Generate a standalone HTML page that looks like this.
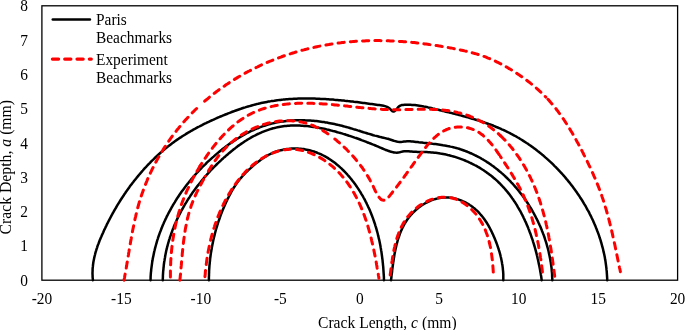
<!DOCTYPE html>
<html><head><meta charset="utf-8"><style>
html,body{margin:0;padding:0;background:#fff;}
svg{display:block;will-change:transform;}
text{font-family:"Liberation Serif",serif;font-size:15.4px;fill:#000;}
.k{fill:none;stroke:#000;stroke-width:2.5;stroke-linejoin:round;stroke-linecap:round;}
.r{fill:none;stroke:#ff0000;stroke-width:3;stroke-dasharray:6.2 6.1;stroke-linecap:round;stroke-linejoin:round;}
</style></head><body>
<svg width="685" height="330" viewBox="0 0 685 330">
<rect x="0" y="0" width="685" height="330" fill="#fff"/>
<rect x="41.9" y="5.8" width="635.7" height="274.4" fill="none" stroke="#000" stroke-width="1.3"/>
<text transform="translate(28.00,285.70) scale(1,1.02)" text-anchor="end">0</text>
<text transform="translate(28.00,251.40) scale(1,1.02)" text-anchor="end">1</text>
<text transform="translate(28.00,217.10) scale(1,1.02)" text-anchor="end">2</text>
<text transform="translate(28.00,182.80) scale(1,1.02)" text-anchor="end">3</text>
<text transform="translate(28.00,148.50) scale(1,1.02)" text-anchor="end">4</text>
<text transform="translate(28.00,114.20) scale(1,1.02)" text-anchor="end">5</text>
<text transform="translate(28.00,79.90) scale(1,1.02)" text-anchor="end">6</text>
<text transform="translate(28.00,45.60) scale(1,1.02)" text-anchor="end">7</text>
<text transform="translate(28.00,11.30) scale(1,1.02)" text-anchor="end">8</text>
<text transform="translate(41.90,303.90) scale(1,1.02)" text-anchor="middle">-20</text>
<text transform="translate(121.36,303.90) scale(1,1.02)" text-anchor="middle">-15</text>
<text transform="translate(200.83,303.90) scale(1,1.02)" text-anchor="middle">-10</text>
<text transform="translate(280.29,303.90) scale(1,1.02)" text-anchor="middle">-5</text>
<text transform="translate(359.75,303.90) scale(1,1.02)" text-anchor="middle">0</text>
<text transform="translate(439.21,303.90) scale(1,1.02)" text-anchor="middle">5</text>
<text transform="translate(518.67,303.90) scale(1,1.02)" text-anchor="middle">10</text>
<text transform="translate(598.14,303.90) scale(1,1.02)" text-anchor="middle">15</text>
<text transform="translate(677.60,303.90) scale(1,1.02)" text-anchor="middle">20</text>
<text transform="translate(387.30,327.80) scale(1,1.02)" text-anchor="middle" style="font-size:15.6px">Crack Length, <tspan font-style="italic">c</tspan> (mm)</text>
<text transform="translate(11.2,167.2) rotate(-90) scale(1,1.02)" text-anchor="middle" style="font-size:15.75px">Crack Depth, <tspan font-style="italic">a</tspan> (mm)</text>
<text transform="translate(96.00,25.20) scale(1,1.02)">Paris</text>
<text transform="translate(96.00,42.90) scale(1,1.02)">Beachmarks</text>
<text transform="translate(96.00,65.00) scale(1,1.02)">Experiment</text>
<text transform="translate(96.00,82.60) scale(1,1.02)">Beachmarks</text>
<line x1="52.8" y1="19.5" x2="89.9" y2="19.5" stroke="#000" stroke-width="2.6" stroke-linecap="round"/>
<line x1="52.4" y1="59.1" x2="91.3" y2="59.1" class="r" style="stroke-width:3.2"/>
<path class="k" d="M92.9,280.2 92.8,278.6 92.6,277.1 92.6,275.5 92.5,274.0 92.5,272.5 92.6,271.0 92.6,269.4 92.7,267.9 92.9,266.4 93.0,265.0 93.2,263.5 93.4,262.0 93.7,260.5 94.0,259.1 94.3,257.6 94.6,256.2 95.0,254.7 95.3,253.3 95.7,251.9 96.2,250.4 96.6,249.0 97.1,247.6 97.5,246.2 98.0,244.8 98.6,243.4 99.1,242.0 99.6,240.6 100.2,239.2 100.8,237.8 101.4,236.5 102.0,235.1 102.6,233.7 103.2,232.4 103.8,231.0 104.4,229.6 105.1,228.3 105.7,226.9 106.4,225.6 107.0,224.2 107.7,222.9 108.4,221.5 109.1,220.2 109.8,218.8 110.5,217.5 111.2,216.2 111.9,214.8 112.6,213.5 113.4,212.2 114.1,210.9 114.8,209.6 115.6,208.3 116.4,207.0 117.1,205.7 117.9,204.4 118.7,203.1 119.5,201.8 120.3,200.5 121.1,199.3 121.9,198.0 122.8,196.7 123.6,195.5 124.4,194.2 125.3,193.0 126.1,191.7 127.0,190.5 127.9,189.3 128.8,188.1 129.6,186.8 130.5,185.6 131.4,184.4 132.3,183.2 133.3,182.0 134.2,180.8 135.1,179.7 136.1,178.5 137.0,177.3 138.0,176.2 138.9,175.0 139.9,173.9 140.9,172.7 141.8,171.6 142.8,170.5 143.8,169.3 144.8,168.2 145.9,167.1 146.9,166.0 147.9,164.9 148.9,163.8 150.0,162.8 151.0,161.7 152.1,160.6 153.2,159.6 154.2,158.6 155.3,157.5 156.4,156.5 157.5,155.5 158.6,154.5 159.7,153.5 160.8,152.5 162.0,151.5 163.1,150.5 164.3,149.6 165.4,148.6 166.6,147.7 167.7,146.7 168.9,145.8 170.1,144.9 171.3,144.0 172.5,143.1 173.7,142.2 174.9,141.3 176.1,140.4 177.3,139.6 178.6,138.7 179.8,137.9 181.1,137.1 182.3,136.3 183.6,135.5 184.9,134.7 186.1,133.9 187.4,133.1 188.7,132.3 190.0,131.6 191.3,130.8 192.6,130.1 193.9,129.3 195.3,128.6 196.6,127.9 197.9,127.2 199.3,126.5 200.6,125.8 202.0,125.1 203.3,124.4 204.7,123.7 206.0,123.1 207.4,122.4 208.7,121.8 210.1,121.1 211.5,120.5 212.9,119.9 214.2,119.3 215.6,118.7 217.0,118.0 218.4,117.4 219.8,116.8 221.2,116.3 222.6,115.7 224.0,115.1 225.4,114.5 226.8,114.0 228.2,113.4 229.6,112.9 231.0,112.3 232.4,111.8 233.8,111.3 235.2,110.7 236.6,110.2 238.1,109.7 239.5,109.2 240.9,108.8 242.3,108.3 243.8,107.8 245.2,107.4 246.6,106.9 248.0,106.5 249.5,106.1 250.9,105.7 252.4,105.3 253.8,104.9 255.3,104.5 256.7,104.1 258.2,103.8 259.6,103.4 261.1,103.1 262.5,102.8 264.0,102.5 265.4,102.2 266.9,101.9 268.4,101.6 269.9,101.4 271.3,101.1 272.8,100.9 274.3,100.7 275.8,100.4 277.2,100.2 278.7,100.1 280.2,99.9 281.7,99.7 283.2,99.6 284.7,99.4 286.2,99.3 287.7,99.2 289.2,99.1 290.7,99.0 292.2,98.9 293.7,98.8 295.2,98.7 296.7,98.7 298.2,98.6 299.7,98.6 301.2,98.5 302.7,98.5 304.2,98.5 305.7,98.5 307.2,98.5 308.7,98.5 310.2,98.5 311.7,98.6 313.2,98.6 314.8,98.6 316.3,98.7 317.8,98.7 319.3,98.8 320.8,98.9 322.3,98.9 323.8,99.0 325.3,99.1 326.9,99.2 328.4,99.3 329.9,99.4 331.4,99.5 332.9,99.6 334.4,99.8 335.9,99.9 337.4,100.0 338.9,100.2 340.5,100.3 342.0,100.4 343.5,100.6 345.0,100.8 346.5,100.9 348.0,101.1 349.5,101.2 351.0,101.4 352.5,101.6 354.0,101.8 355.5,101.9 357.0,102.1 358.5,102.3 360.0,102.5 361.5,102.7 363.0,102.9 364.5,103.1 366.0,103.3 367.4,103.5 368.9,103.7 370.4,103.9 371.9,104.1 373.4,104.3 374.8,104.5 376.3,104.7 377.8,104.9 379.3,105.1 380.7,105.3 382.2,105.5 383.6,105.8 385.0,106.1 386.4,106.6 387.8,107.2 389.0,108.1 390.3,109.1 391.4,110.3 392.5,111.2 393.6,111.5 394.7,111.0 395.8,110.1 396.9,108.8 397.9,107.5 399.0,106.4 400.3,105.6 401.6,105.1 403.1,104.9 404.6,104.8 406.0,104.7 407.5,104.7 409.0,104.7 410.5,104.8 412.0,104.9 413.5,105.0 415.0,105.1 416.4,105.3 417.9,105.5 419.4,105.7 420.9,105.9 422.3,106.2 423.8,106.5 425.3,106.7 426.7,107.0 428.2,107.4 429.7,107.7 431.2,108.0 432.6,108.4 434.1,108.7 435.6,109.1 437.0,109.5 438.5,109.8 440.0,110.2 441.4,110.6 442.9,110.9 444.4,111.3 445.9,111.7 447.3,112.0 448.8,112.4 450.3,112.8 451.8,113.1 453.2,113.5 454.7,113.9 456.2,114.3 457.6,114.6 459.1,115.0 460.6,115.4 462.0,115.8 463.5,116.2 464.9,116.6 466.4,117.0 467.9,117.4 469.3,117.8 470.8,118.2 472.2,118.7 473.7,119.1 475.1,119.5 476.6,120.0 478.0,120.4 479.4,120.9 480.9,121.3 482.3,121.8 483.7,122.3 485.1,122.8 486.5,123.2 488.0,123.7 489.4,124.3 490.8,124.8 492.2,125.3 493.6,125.8 495.0,126.4 496.3,127.0 497.7,127.5 499.1,128.1 500.5,128.7 501.8,129.3 503.2,129.9 504.6,130.5 505.9,131.2 507.2,131.8 508.6,132.5 509.9,133.2 511.2,133.9 512.6,134.6 513.9,135.3 515.2,136.0 516.5,136.7 517.8,137.5 519.1,138.2 520.3,139.0 521.6,139.8 522.9,140.6 524.1,141.4 525.4,142.2 526.6,143.0 527.9,143.8 529.1,144.7 530.3,145.5 531.6,146.4 532.8,147.3 534.0,148.2 535.2,149.1 536.4,150.0 537.5,150.9 538.7,151.8 539.9,152.8 541.1,153.7 542.2,154.7 543.4,155.6 544.5,156.6 545.6,157.6 546.8,158.6 547.9,159.6 549.0,160.6 550.1,161.6 551.2,162.6 552.3,163.7 553.3,164.7 554.4,165.8 555.5,166.8 556.5,167.9 557.6,169.0 558.6,170.1 559.6,171.2 560.7,172.3 561.7,173.4 562.7,174.5 563.7,175.6 564.7,176.8 565.6,177.9 566.6,179.1 567.6,180.2 568.5,181.4 569.5,182.6 570.4,183.8 571.3,184.9 572.2,186.1 573.1,187.3 574.0,188.6 574.9,189.8 575.8,191.0 576.7,192.2 577.5,193.5 578.4,194.7 579.2,195.9 580.0,197.2 580.9,198.5 581.7,199.7 582.5,201.0 583.3,202.3 584.0,203.6 584.8,204.9 585.6,206.2 586.3,207.5 587.0,208.8 587.7,210.1 588.5,211.4 589.2,212.7 589.8,214.1 590.5,215.4 591.2,216.8 591.8,218.1 592.5,219.5 593.1,220.8 593.7,222.2 594.3,223.6 594.9,224.9 595.5,226.3 596.0,227.7 596.6,229.1 597.1,230.5 597.7,231.9 598.2,233.3 598.7,234.7 599.2,236.1 599.6,237.5 600.1,238.9 600.6,240.4 601.0,241.8 601.4,243.2 601.8,244.7 602.2,246.1 602.6,247.6 603.0,249.0 603.3,250.5 603.6,251.9 604.0,253.4 604.3,254.8 604.6,256.3 604.9,257.8 605.1,259.3 605.4,260.7 605.6,262.2 605.8,263.7 606.0,265.2 606.2,266.7 606.4,268.2 606.5,269.7 606.7,271.2 606.8,272.7 606.9,274.2 607.0,275.7 607.1,277.2 607.2,278.7 607.2,280.2"/>
<path class="k" d="M150.5,280.2 150.6,278.7 150.6,277.1 150.7,275.6 150.8,274.1 150.9,272.6 151.1,271.1 151.2,269.6 151.4,268.1 151.6,266.6 151.8,265.1 152.0,263.6 152.2,262.1 152.5,260.6 152.7,259.1 153.0,257.6 153.3,256.2 153.6,254.7 153.9,253.2 154.2,251.8 154.6,250.3 154.9,248.9 155.3,247.4 155.7,246.0 156.1,244.5 156.5,243.1 156.9,241.7 157.3,240.2 157.8,238.8 158.2,237.4 158.7,236.0 159.2,234.6 159.7,233.2 160.2,231.8 160.8,230.4 161.3,229.0 161.9,227.6 162.4,226.2 163.0,224.8 163.6,223.5 164.2,222.1 164.8,220.8 165.4,219.4 166.1,218.1 166.7,216.7 167.4,215.4 168.1,214.0 168.8,212.7 169.5,211.4 170.2,210.1 170.9,208.8 171.6,207.5 172.4,206.2 173.1,204.9 173.9,203.6 174.7,202.3 175.4,201.1 176.2,199.8 177.0,198.5 177.9,197.3 178.7,196.0 179.5,194.8 180.4,193.5 181.2,192.3 182.1,191.1 183.0,189.9 183.9,188.7 184.8,187.5 185.7,186.3 186.6,185.1 187.5,183.9 188.5,182.7 189.4,181.5 190.4,180.4 191.3,179.2 192.3,178.1 193.3,176.9 194.3,175.8 195.3,174.7 196.3,173.5 197.3,172.4 198.3,171.3 199.4,170.2 200.4,169.1 201.5,168.0 202.5,166.9 203.6,165.9 204.7,164.8 205.8,163.8 206.8,162.7 207.9,161.7 209.1,160.6 210.2,159.6 211.3,158.6 212.4,157.6 213.6,156.6 214.7,155.6 215.8,154.6 217.0,153.6 218.2,152.6 219.3,151.7 220.5,150.7 221.7,149.8 222.9,148.8 224.1,147.9 225.3,147.0 226.5,146.1 227.7,145.2 228.9,144.3 230.2,143.4 231.4,142.6 232.7,141.7 233.9,140.9 235.2,140.1 236.4,139.3 237.7,138.5 239.0,137.7 240.3,136.9 241.6,136.1 242.9,135.4 244.2,134.7 245.5,133.9 246.8,133.2 248.1,132.6 249.5,131.9 250.8,131.2 252.1,130.6 253.5,130.0 254.8,129.4 256.2,128.8 257.6,128.2 259.0,127.7 260.3,127.2 261.7,126.6 263.1,126.1 264.5,125.7 265.9,125.2 267.3,124.8 268.8,124.4 270.2,124.0 271.6,123.6 273.1,123.3 274.5,122.9 276.0,122.6 277.4,122.3 278.9,122.1 280.4,121.8 281.8,121.6 283.3,121.4 284.8,121.2 286.3,121.0 287.8,120.8 289.3,120.7 290.7,120.6 292.2,120.5 293.7,120.4 295.3,120.3 296.8,120.3 298.3,120.3 299.8,120.2 301.3,120.3 302.8,120.3 304.3,120.3 305.8,120.4 307.4,120.4 308.9,120.5 310.4,120.6 311.9,120.7 313.4,120.8 314.9,121.0 316.5,121.1 318.0,121.3 319.5,121.5 321.0,121.7 322.5,121.9 324.0,122.1 325.5,122.4 327.0,122.6 328.5,122.9 330.0,123.2 331.5,123.5 333.0,123.8 334.5,124.1 336.0,124.4 337.4,124.7 338.9,125.1 340.4,125.4 341.9,125.8 343.3,126.2 344.8,126.6 346.2,127.0 347.7,127.4 349.1,127.8 350.5,128.2 352.0,128.6 353.4,129.1 354.8,129.5 356.3,129.9 357.7,130.4 359.1,130.8 360.5,131.3 361.9,131.7 363.4,132.2 364.8,132.6 366.2,133.0 367.6,133.5 369.1,133.9 370.5,134.3 371.9,134.7 373.3,135.2 374.8,135.6 376.2,135.9 377.7,136.3 379.1,136.7 380.6,137.1 382.1,137.4 383.5,137.7 385.0,138.1 386.5,138.5 387.9,138.8 389.4,139.3 390.8,139.7 392.3,140.2 393.7,140.7 395.2,141.1 396.6,141.5 398.0,141.8 399.5,141.9 401.0,141.9 402.5,141.8 404.0,141.6 405.5,141.4 407.0,141.3 408.5,141.2 410.0,141.3 411.5,141.4 412.9,141.5 414.4,141.7 415.9,141.9 417.4,142.1 418.9,142.3 420.4,142.4 421.9,142.6 423.4,142.8 424.9,142.9 426.5,143.1 428.0,143.3 429.5,143.4 431.0,143.6 432.5,143.8 434.0,143.9 435.5,144.1 437.0,144.3 438.5,144.5 440.0,144.7 441.5,144.9 443.0,145.2 444.5,145.4 445.9,145.7 447.4,146.0 448.9,146.2 450.4,146.6 451.8,146.9 453.3,147.2 454.7,147.6 456.2,148.0 457.6,148.4 459.0,148.8 460.4,149.3 461.8,149.7 463.2,150.2 464.6,150.7 466.0,151.3 467.4,151.8 468.8,152.4 470.1,153.0 471.5,153.5 472.8,154.2 474.2,154.8 475.5,155.5 476.8,156.1 478.2,156.8 479.5,157.5 480.8,158.2 482.0,159.0 483.3,159.7 484.6,160.5 485.9,161.3 487.1,162.1 488.4,162.9 489.6,163.7 490.8,164.6 492.0,165.5 493.3,166.3 494.4,167.2 495.6,168.1 496.8,169.1 498.0,170.0 499.1,171.0 500.3,171.9 501.4,172.9 502.6,173.9 503.7,174.9 504.8,175.9 505.9,177.0 507.0,178.0 508.1,179.1 509.1,180.1 510.2,181.2 511.2,182.3 512.3,183.4 513.3,184.5 514.3,185.7 515.3,186.8 516.3,187.9 517.3,189.1 518.2,190.3 519.2,191.5 520.1,192.7 521.1,193.9 522.0,195.1 522.9,196.3 523.8,197.5 524.7,198.8 525.5,200.0 526.4,201.3 527.2,202.5 528.1,203.8 528.9,205.1 529.7,206.4 530.5,207.7 531.3,209.0 532.1,210.3 532.8,211.6 533.6,213.0 534.3,214.3 535.0,215.7 535.7,217.0 536.4,218.4 537.1,219.7 537.8,221.1 538.4,222.5 539.1,223.9 539.7,225.3 540.3,226.6 540.9,228.0 541.5,229.4 542.0,230.9 542.6,232.3 543.1,233.7 543.7,235.1 544.2,236.5 544.7,238.0 545.1,239.4 545.6,240.8 546.1,242.3 546.5,243.7 546.9,245.2 547.3,246.6 547.7,248.0 548.1,249.5 548.5,251.0 548.8,252.4 549.1,253.9 549.4,255.3 549.7,256.8 550.0,258.3 550.3,259.7 550.5,261.2 550.8,262.6 551.0,264.1 551.2,265.6 551.4,267.0 551.6,268.5 551.7,270.0 551.8,271.4 552.0,272.9 552.1,274.4 552.1,275.8 552.2,277.3 552.3,278.7 552.3,280.2"/>
<path class="k" d="M162.8,280.2 162.8,278.7 162.9,277.1 162.9,275.6 163.0,274.1 163.1,272.5 163.2,271.0 163.4,269.5 163.5,268.0 163.7,266.5 163.8,265.0 164.0,263.5 164.2,262.0 164.5,260.5 164.7,259.0 165.0,257.5 165.2,256.0 165.5,254.5 165.8,253.1 166.1,251.6 166.4,250.1 166.8,248.7 167.1,247.2 167.5,245.8 167.9,244.3 168.3,242.9 168.7,241.5 169.1,240.0 169.6,238.6 170.0,237.2 170.5,235.8 171.0,234.4 171.5,233.0 172.0,231.6 172.5,230.2 173.0,228.8 173.6,227.4 174.1,226.0 174.7,224.6 175.3,223.3 175.9,221.9 176.5,220.6 177.1,219.2 177.8,217.9 178.4,216.5 179.1,215.2 179.8,213.9 180.5,212.5 181.1,211.2 181.9,209.9 182.6,208.6 183.3,207.3 184.1,206.0 184.8,204.7 185.6,203.4 186.4,202.1 187.1,200.9 187.9,199.6 188.8,198.3 189.6,197.1 190.4,195.8 191.3,194.6 192.1,193.3 193.0,192.1 193.8,190.9 194.7,189.7 195.6,188.5 196.5,187.3 197.4,186.1 198.4,184.9 199.3,183.7 200.3,182.5 201.2,181.3 202.2,180.1 203.1,179.0 204.1,177.8 205.1,176.7 206.1,175.5 207.1,174.4 208.1,173.3 209.2,172.2 210.2,171.0 211.2,169.9 212.3,168.8 213.4,167.7 214.4,166.7 215.5,165.6 216.6,164.5 217.7,163.4 218.8,162.4 219.9,161.3 221.0,160.3 222.1,159.2 223.3,158.2 224.4,157.2 225.6,156.2 226.7,155.2 227.9,154.2 229.0,153.2 230.2,152.2 231.4,151.2 232.6,150.3 233.8,149.3 235.0,148.4 236.2,147.4 237.4,146.5 238.6,145.6 239.9,144.7 241.1,143.9 242.4,143.0 243.6,142.2 244.9,141.3 246.2,140.5 247.4,139.7 248.7,139.0 250.0,138.2 251.3,137.4 252.6,136.7 253.9,136.0 255.3,135.3 256.6,134.6 257.9,134.0 259.3,133.4 260.6,132.8 262.0,132.2 263.4,131.6 264.7,131.1 266.1,130.6 267.5,130.1 268.9,129.6 270.3,129.1 271.7,128.7 273.1,128.3 274.5,128.0 276.0,127.6 277.4,127.3 278.9,127.0 280.3,126.7 281.8,126.5 283.2,126.3 284.7,126.1 286.2,126.0 287.7,125.8 289.2,125.7 290.7,125.6 292.2,125.6 293.7,125.5 295.2,125.5 296.7,125.5 298.2,125.6 299.7,125.6 301.2,125.7 302.7,125.8 304.2,125.9 305.8,126.0 307.3,126.1 308.8,126.3 310.3,126.5 311.9,126.7 313.4,126.9 314.9,127.1 316.4,127.4 318.0,127.6 319.5,127.9 321.0,128.2 322.5,128.5 324.0,128.8 325.5,129.1 327.0,129.5 328.5,129.8 330.0,130.2 331.5,130.6 333.0,131.0 334.5,131.3 336.0,131.7 337.4,132.2 338.9,132.6 340.4,133.0 341.8,133.4 343.3,133.9 344.7,134.3 346.1,134.8 347.6,135.2 349.0,135.7 350.4,136.1 351.8,136.6 353.2,137.1 354.6,137.6 356.0,138.0 357.4,138.5 358.8,139.0 360.1,139.5 361.5,140.1 362.9,140.6 364.3,141.1 365.7,141.6 367.0,142.2 368.4,142.7 369.8,143.3 371.2,143.8 372.6,144.4 374.0,144.9 375.4,145.5 376.8,146.1 378.2,146.7 379.6,147.3 381.0,147.9 382.4,148.5 383.8,149.1 385.2,149.7 386.7,150.2 388.1,150.8 389.5,151.3 391.0,151.7 392.4,152.1 393.9,152.4 395.3,152.6 396.8,152.7 398.3,152.6 399.7,152.3 401.2,151.9 402.7,151.5 404.2,151.3 405.7,151.3 407.2,151.3 408.7,151.3 410.2,151.5 411.7,151.6 413.2,151.7 414.7,151.8 416.2,151.8 417.7,151.9 419.2,151.9 420.7,151.9 422.2,152.0 423.7,152.0 425.2,152.1 426.8,152.1 428.3,152.2 429.8,152.3 431.3,152.4 432.8,152.5 434.3,152.7 435.8,152.8 437.3,153.0 438.8,153.2 440.3,153.5 441.7,153.7 443.2,154.0 444.7,154.3 446.2,154.6 447.7,155.0 449.1,155.3 450.6,155.7 452.1,156.1 453.5,156.5 455.0,156.9 456.4,157.4 457.9,157.9 459.3,158.4 460.7,158.9 462.1,159.4 463.5,159.9 465.0,160.5 466.3,161.1 467.7,161.7 469.1,162.3 470.5,163.0 471.8,163.6 473.2,164.3 474.5,165.0 475.9,165.7 477.2,166.4 478.5,167.2 479.8,167.9 481.1,168.7 482.3,169.5 483.6,170.3 484.9,171.2 486.1,172.0 487.3,172.9 488.5,173.8 489.7,174.7 490.9,175.6 492.1,176.5 493.2,177.5 494.4,178.5 495.5,179.4 496.6,180.4 497.7,181.4 498.8,182.5 499.9,183.5 500.9,184.6 501.9,185.7 503.0,186.8 504.0,187.9 505.0,189.0 505.9,190.1 506.9,191.3 507.8,192.4 508.8,193.6 509.7,194.8 510.6,196.0 511.5,197.2 512.3,198.4 513.2,199.6 514.0,200.9 514.9,202.1 515.7,203.4 516.5,204.7 517.3,206.0 518.0,207.3 518.8,208.6 519.5,209.9 520.3,211.2 521.0,212.5 521.7,213.9 522.4,215.2 523.1,216.6 523.7,218.0 524.4,219.3 525.0,220.7 525.7,222.1 526.3,223.5 526.9,224.9 527.5,226.3 528.1,227.7 528.6,229.1 529.2,230.6 529.7,232.0 530.3,233.4 530.8,234.9 531.3,236.3 531.8,237.8 532.3,239.2 532.8,240.7 533.2,242.1 533.7,243.6 534.1,245.0 534.6,246.5 535.0,248.0 535.4,249.4 535.8,250.9 536.2,252.4 536.6,253.9 536.9,255.3 537.3,256.8 537.6,258.3 538.0,259.7 538.3,261.2 538.6,262.7 538.9,264.2 539.2,265.6 539.5,267.1 539.8,268.6 540.1,270.0 540.3,271.5 540.6,273.0 540.8,274.4 541.1,275.9 541.3,277.3 541.5,278.8 541.7,280.2"/>
<path class="k" d="M208.9,280.2 208.9,278.7 208.9,277.2 209.0,275.7 209.0,274.2 209.1,272.7 209.1,271.2 209.2,269.6 209.3,268.1 209.4,266.6 209.5,265.1 209.7,263.6 209.8,262.1 210.0,260.6 210.1,259.1 210.3,257.6 210.5,256.1 210.7,254.6 210.9,253.1 211.2,251.6 211.4,250.2 211.7,248.7 211.9,247.2 212.2,245.7 212.5,244.2 212.8,242.7 213.1,241.3 213.4,239.8 213.8,238.3 214.1,236.8 214.5,235.4 214.8,233.9 215.2,232.5 215.6,231.0 216.0,229.5 216.4,228.1 216.9,226.6 217.3,225.2 217.8,223.8 218.2,222.3 218.7,220.9 219.2,219.5 219.7,218.0 220.2,216.6 220.7,215.2 221.2,213.8 221.8,212.4 222.3,211.0 222.9,209.6 223.5,208.2 224.1,206.8 224.7,205.4 225.3,204.1 225.9,202.7 226.5,201.3 227.2,200.0 227.8,198.6 228.5,197.3 229.2,195.9 229.9,194.6 230.6,193.3 231.3,191.9 232.0,190.6 232.8,189.3 233.6,188.0 234.4,186.8 235.2,185.5 236.0,184.3 236.9,183.0 237.8,181.8 238.7,180.6 239.6,179.5 240.6,178.3 241.6,177.2 242.6,176.0 243.6,174.9 244.6,173.8 245.7,172.7 246.8,171.7 247.8,170.6 248.9,169.6 250.1,168.6 251.2,167.6 252.3,166.6 253.4,165.6 254.6,164.6 255.7,163.6 256.9,162.7 258.1,161.8 259.3,160.9 260.5,160.0 261.7,159.1 262.9,158.3 264.1,157.4 265.4,156.7 266.7,155.9 268.0,155.2 269.3,154.5 270.7,153.8 272.0,153.2 273.4,152.6 274.8,152.0 276.3,151.5 277.8,151.0 279.3,150.6 280.8,150.2 282.3,149.9 283.8,149.6 285.4,149.3 286.9,149.1 288.5,148.9 290.1,148.7 291.6,148.6 293.2,148.6 294.7,148.5 296.3,148.5 297.8,148.6 299.3,148.7 300.8,148.8 302.3,148.9 303.8,149.1 305.3,149.4 306.7,149.7 308.2,150.0 309.6,150.3 311.0,150.7 312.5,151.1 313.9,151.5 315.2,152.0 316.6,152.5 318.0,153.1 319.3,153.6 320.7,154.2 322.0,154.8 323.3,155.5 324.6,156.2 325.9,156.9 327.2,157.6 328.4,158.4 329.7,159.2 330.9,160.0 332.1,160.9 333.3,161.7 334.5,162.6 335.7,163.5 336.8,164.5 338.0,165.4 339.1,166.4 340.2,167.4 341.4,168.4 342.4,169.5 343.5,170.5 344.6,171.6 345.6,172.7 346.7,173.8 347.7,175.0 348.7,176.1 349.7,177.3 350.7,178.5 351.6,179.6 352.6,180.9 353.5,182.1 354.4,183.3 355.4,184.6 356.2,185.8 357.1,187.1 358.0,188.4 358.8,189.6 359.6,190.9 360.5,192.2 361.2,193.6 362.0,194.9 362.8,196.2 363.5,197.5 364.3,198.9 365.0,200.2 365.7,201.6 366.4,202.9 367.0,204.3 367.7,205.7 368.3,207.1 369.0,208.4 369.6,209.8 370.2,211.2 370.7,212.6 371.3,214.0 371.9,215.4 372.4,216.8 372.9,218.2 373.4,219.6 373.9,221.0 374.4,222.5 374.9,223.9 375.3,225.3 375.8,226.8 376.2,228.2 376.6,229.6 377.0,231.1 377.4,232.5 377.8,234.0 378.1,235.4 378.5,236.9 378.8,238.4 379.2,239.8 379.5,241.3 379.8,242.8 380.1,244.2 380.4,245.7 380.6,247.2 380.9,248.7 381.1,250.2 381.4,251.6 381.6,253.1 381.8,254.6 382.0,256.1 382.2,257.6 382.4,259.1 382.6,260.6 382.7,262.1 382.9,263.6 383.0,265.1 383.2,266.6 383.3,268.1 383.4,269.6 383.5,271.1 383.6,272.6 383.7,274.1 383.8,275.7 383.9,277.2 383.9,278.7 384.0,280.2"/>
<path class="k" d="M391.0,280.2 391.2,278.8 391.4,277.3 391.5,275.9 391.7,274.4 391.9,273.0 392.1,271.5 392.2,270.0 392.4,268.5 392.6,267.0 392.8,265.5 393.0,264.0 393.2,262.5 393.5,260.9 393.7,259.4 393.9,257.9 394.2,256.4 394.4,254.8 394.7,253.3 395.0,251.8 395.3,250.2 395.6,248.7 396.0,247.2 396.3,245.7 396.7,244.2 397.1,242.7 397.5,241.2 397.9,239.7 398.4,238.2 398.9,236.8 399.4,235.3 399.9,233.9 400.5,232.4 401.0,231.0 401.7,229.6 402.3,228.2 403.0,226.9 403.7,225.5 404.4,224.2 405.2,222.9 406.0,221.6 406.8,220.3 407.7,219.1 408.6,217.8 409.5,216.6 410.5,215.5 411.5,214.3 412.5,213.2 413.6,212.1 414.7,211.0 415.8,210.0 417.0,209.0 418.2,208.0 419.4,207.1 420.6,206.2 421.9,205.3 423.2,204.5 424.5,203.7 425.8,203.0 427.1,202.3 428.5,201.6 429.8,201.0 431.2,200.4 432.6,199.9 434.0,199.4 435.5,199.0 436.9,198.6 438.3,198.3 439.8,198.0 441.2,197.8 442.7,197.6 444.2,197.5 445.6,197.5 447.1,197.5 448.6,197.5 450.0,197.7 451.5,197.8 453.0,198.1 454.4,198.4 455.9,198.7 457.4,199.1 458.8,199.6 460.2,200.1 461.6,200.7 463.0,201.3 464.4,201.9 465.8,202.6 467.1,203.4 468.4,204.1 469.7,205.0 471.0,205.8 472.3,206.7 473.5,207.7 474.7,208.6 475.8,209.6 477.0,210.7 478.1,211.7 479.1,212.8 480.1,214.0 481.1,215.1 482.1,216.3 483.1,217.5 484.0,218.7 484.9,220.0 485.7,221.2 486.6,222.5 487.4,223.8 488.2,225.2 488.9,226.5 489.7,227.8 490.4,229.2 491.1,230.6 491.8,232.0 492.4,233.4 493.1,234.8 493.7,236.2 494.3,237.6 494.9,239.0 495.5,240.4 496.0,241.8 496.6,243.3 497.1,244.7 497.6,246.1 498.1,247.6 498.6,249.0 499.0,250.5 499.5,251.9 499.9,253.4 500.3,254.8 500.6,256.3 501.0,257.8 501.3,259.2 501.6,260.7 501.9,262.2 502.1,263.7 502.4,265.1 502.6,266.6 502.8,268.1 502.9,269.6 503.1,271.1 503.2,272.6 503.3,274.1 503.3,275.6 503.3,277.2 503.3,278.7 503.3,280.2"/>
<path class="r" style="stroke-dashoffset:0.00" d="M124.0,280.2 124.3,278.7 124.6,277.2 124.8,275.8 125.1,274.3 125.4,272.8 125.6,271.3 125.9,269.8 126.2,268.3 126.4,266.9 126.7,265.4 126.9,263.9 127.2,262.4 127.4,260.9 127.7,259.4 127.9,257.9 128.1,256.5 128.4,255.0 128.6,253.5 128.9,252.0 129.1,250.5 129.4,249.0 129.6,247.6 129.9,246.1 130.1,244.6 130.4,243.1 130.6,241.6 130.9,240.1 131.2,238.7 131.4,237.2 131.7,235.7 132.0,234.2 132.2,232.8 132.5,231.3 132.8,229.8 133.1,228.3 133.4,226.9 133.7,225.4 134.0,223.9 134.3,222.5 134.6,221.0 134.9,219.5 135.2,218.1 135.6,216.6 135.9,215.2 136.3,213.7 136.6,212.3 137.0,210.8 137.4,209.4 137.7,207.9 138.1,206.5 138.5,205.0 138.9,203.6 139.3,202.2 139.8,200.7 140.2,199.3 140.7,197.9 141.1,196.4 141.6,195.0 142.1,193.6 142.6,192.2 143.1,190.8 143.6,189.4 144.1,188.0 144.6,186.6 145.2,185.2 145.7,183.8 146.3,182.4 146.9,181.0 147.4,179.6 148.0,178.2 148.6,176.8 149.3,175.5 149.9,174.1 150.5,172.7 151.2,171.4 151.8,170.0 152.5,168.6 153.2,167.3 153.8,165.9 154.5,164.6 155.2,163.3 155.9,161.9 156.7,160.6 157.4,159.3 158.1,158.0 158.9,156.7 159.7,155.4 160.4,154.1 161.2,152.8 162.0,151.5 162.8,150.2 163.6,148.9 164.4,147.6 165.2,146.4 166.0,145.1 166.9,143.9 167.7,142.6 168.6,141.4 169.5,140.1 170.3,138.9 171.2,137.7 172.1,136.4 173.0,135.2 173.9,134.0 174.8,132.8 175.8,131.6 176.7,130.4 177.6,129.3 178.6,128.1 179.5,126.9 180.5,125.8 181.5,124.6 182.4,123.5 183.4,122.3 184.4,121.2 185.4,120.1 186.4,119.0 187.4,117.9 188.5,116.8 189.5,115.7 190.5,114.6 191.6,113.5 192.6,112.4 193.7,111.4 194.8,110.3 195.8,109.3 196.9,108.2 198.0,107.2 199.1,106.2 200.2,105.2"/>
<path class="r" style="stroke-dashoffset:6.29" d="M200.2,105.2 201.3,104.2 202.4,103.2 203.6,102.2 204.7,101.2 205.8,100.2 207.0,99.3 208.1,98.3 209.3,97.3 210.4,96.4 211.6,95.5 212.8,94.5 213.9,93.6 215.1,92.7 216.3,91.8 217.5,90.9 218.7,90.0 219.9,89.1 221.1,88.2 222.4,87.4 223.6,86.5 224.8,85.7 226.0,84.8 227.3,84.0 228.5,83.2 229.8,82.3 231.0,81.5 232.3,80.7 233.6,79.9 234.8,79.1 236.1,78.4 237.4,77.6 238.7,76.8 240.0,76.1 241.3,75.3 242.6,74.6 243.9,73.8 245.2,73.1 246.5,72.4 247.8,71.7 249.2,71.0 250.5,70.3 251.8,69.6 253.2,68.9 254.5,68.3 255.9,67.6 257.2,67.0 258.6,66.3 259.9,65.7 261.3,65.0 262.7,64.4 264.0,63.8 265.4,63.2 266.8,62.6 268.2,62.0 269.5,61.4 270.9,60.9 272.3,60.3 273.7,59.7 275.1,59.2 276.5,58.6 277.9,58.1 279.3,57.6 280.8,57.1 282.2,56.5 283.6,56.0 285.0,55.5 286.4,55.1 287.9,54.6 289.3,54.1 290.7,53.7 292.2,53.2 293.6,52.8 295.0,52.3 296.5,51.9 297.9,51.5 299.4,51.0 300.8,50.6 302.3,50.2 303.7,49.9 305.2,49.5 306.7,49.1 308.1,48.7 309.6,48.4 311.0,48.0 312.5,47.7 314.0,47.4 315.5,47.0 316.9,46.7 318.4,46.4 319.9,46.1 321.4,45.8 322.8,45.5 324.3,45.3 325.8,45.0 327.3,44.7 328.8,44.5 330.3,44.2 331.7,44.0 333.2,43.8 334.7,43.6 336.2,43.3 337.7,43.1 339.2,42.9 340.7,42.8 342.2,42.6 343.7,42.4 345.2,42.2 346.7,42.1 348.2,41.9 349.6,41.8 351.1,41.7 352.6,41.6 354.1,41.4 355.6,41.3 357.1,41.2 358.6,41.2 360.1,41.1 361.6,41.0 363.1,40.9 364.6,40.9 366.1,40.8 367.6,40.8 369.1,40.7 370.7,40.7 372.2,40.7 373.7,40.6 375.2,40.6 376.7,40.6 378.2,40.6 379.7,40.6 381.2,40.7 382.7,40.7 384.2,40.7 385.7,40.8 387.2,40.8 388.7,40.8 390.2,40.9 391.7,41.0 393.2,41.0 394.7,41.1 396.2,41.2 397.7,41.3 399.2,41.4 400.7,41.5 402.2,41.6 403.7,41.7 405.2,41.8 406.7,41.9 408.2,42.1 409.7,42.2 411.2,42.3 412.7,42.5 414.2,42.6 415.7,42.8 417.2,43.0 418.7,43.1 420.2,43.3 421.7,43.5 423.2,43.7 424.7,43.9 426.2,44.1 427.7,44.3 429.1,44.5 430.6,44.7 432.1,44.9 433.6,45.1 435.1,45.3 436.6,45.6 438.1,45.8 439.6,46.1 441.0,46.3 442.5,46.5 444.0,46.8 445.5,47.1 447.0,47.3 448.4,47.6 449.9,47.9 451.4,48.1 452.9,48.4 454.3,48.7 455.8,49.0 457.3,49.3 458.7,49.6 460.2,49.9 461.7,50.2 463.1,50.5 464.6,50.9 466.1,51.2 467.5,51.6 469.0,51.9 470.4,52.3 471.9,52.7 473.3,53.1 474.7,53.5 476.2,53.9 477.6,54.3 479.0,54.8 480.4,55.2 481.9,55.7 483.3,56.2 484.7,56.7 486.1,57.2 487.5,57.8 488.9,58.3 490.3,58.9 491.6,59.5 493.0,60.1 494.4,60.8 495.8,61.4 497.1,62.1 498.5,62.7 499.8,63.4 501.2,64.1 502.5,64.8 503.8,65.6 505.2,66.3 506.5,67.0 507.8,67.8 509.1,68.6 510.4,69.3 511.7,70.1 513.0,70.9 514.3,71.7 515.6,72.5 516.8,73.4 518.1,74.2 519.3,75.0 520.6,75.9 521.8,76.7 523.1,77.6 524.3,78.5 525.5,79.4 526.7,80.3 527.9,81.2 529.1,82.1 530.3,83.0 531.4,84.0 532.6,84.9 533.8,85.9 534.9,86.8 536.0,87.8 537.2,88.8 538.3,89.8 539.4,90.8 540.5,91.8 541.6,92.9 542.6,93.9 543.7,94.9 544.8,96.0 545.8,97.1"/>
<path class="r" style="stroke-dashoffset:9.26" d="M545.8,97.1 546.8,98.2 547.9,99.2 548.9,100.3 549.9,101.5 550.8,102.6 551.8,103.7 552.8,104.9 553.7,106.0 554.7,107.2 555.6,108.3 556.5,109.5 557.4,110.7 558.3,111.9 559.2,113.1 560.1,114.3 561.0,115.5 561.9,116.8 562.7,118.0 563.6,119.2 564.4,120.5 565.2,121.7 566.0,123.0 566.9,124.3 567.7,125.5 568.5,126.8 569.3,128.1 570.0,129.4 570.8,130.7 571.6,132.0 572.4,133.3 573.1,134.6 573.9,135.9 574.6,137.2 575.4,138.5 576.1,139.9 576.8,141.2 577.5,142.5 578.3,143.8 579.0,145.2 579.7,146.5 580.4,147.9 581.1,149.2 581.8,150.5 582.5,151.9 583.2,153.2 583.8,154.6 584.5,155.9 585.2,157.3 585.9,158.6 586.5,159.9 587.2,161.3 587.8,162.6 588.5,164.0 589.1,165.4 589.8,166.7 590.4,168.1 591.0,169.4 591.7,170.8 592.3,172.2 592.9,173.5 593.5,174.9 594.1,176.3 594.7,177.6 595.3,179.0 595.9,180.4 596.4,181.8 597.0,183.2 597.6,184.5 598.1,185.9 598.7,187.3 599.2,188.7 599.7,190.1 600.2,191.5 600.8,192.9 601.3,194.3 601.8,195.8 602.2,197.2 602.7,198.6 603.2,200.0 603.7,201.4 604.1,202.9 604.6,204.3 605.0,205.7 605.4,207.2 605.9,208.6 606.3,210.1 606.7,211.5 607.1,213.0 607.5,214.4 607.9,215.9 608.3,217.3 608.7,218.8 609.1,220.2 609.4,221.7 609.8,223.2 610.2,224.6 610.5,226.1 610.9,227.5 611.2,229.0 611.6,230.5 611.9,232.0 612.3,233.4 612.6,234.9 612.9,236.4 613.3,237.8 613.6,239.3 613.9,240.8 614.2,242.3 614.6,243.7 614.9,245.2 615.2,246.7 615.5,248.2 615.8,249.6 616.1,251.1 616.4,252.6 616.7,254.1 617.0,255.5 617.3,257.0 617.6,258.5 617.9,260.0 618.2,261.4 618.5,262.9 618.8,264.4 619.1,265.8 619.4,267.3 619.8,268.8 620.1,270.2 620.4,271.7"/>
<path class="r" style="stroke-dashoffset:9.20" d="M170.4,280.2 170.4,278.7 170.4,277.2 170.4,275.6 170.4,274.1 170.4,272.6 170.4,271.1 170.5,269.6 170.5,268.0 170.5,266.5 170.6,265.0 170.7,263.5 170.7,262.0 170.8,260.5 170.9,259.0 171.0,257.5 171.1,256.0 171.2,254.5 171.3,253.0 171.5,251.5 171.6,250.0 171.8,248.5 171.9,247.0 172.1,245.5 172.3,244.0 172.5,242.5 172.7,241.0 172.9,239.5 173.1,238.1 173.4,236.6 173.6,235.1 173.9,233.6 174.1,232.2 174.4,230.7 174.7,229.2 175.0,227.8 175.3,226.3 175.6,224.9 175.9,223.4 176.3,222.0 176.6,220.5 177.0,219.1 177.4,217.6 177.8,216.2 178.2,214.8 178.6,213.4 179.0,211.9 179.5,210.5 179.9,209.1 180.4,207.7 180.9,206.3 181.3,204.9 181.8,203.5 182.3,202.1 182.9,200.7 183.4,199.3 183.9,197.9 184.5,196.5 185.1,195.1 185.6,193.8 186.2,192.4 186.8,191.0 187.4,189.7 188.1,188.3 188.7,187.0 189.3,185.6 190.0,184.3 190.7,182.9 191.3,181.6 192.0,180.2 192.7,178.9 193.4,177.6 194.1,176.2 194.9,174.9 195.6,173.6 196.4,172.3 197.1,171.0 197.9,169.7 198.7,168.4 199.4,167.1 200.2,165.8"/>
<path class="r" style="stroke-dashoffset:3.33" d="M200.2,165.8 201.0,164.5 201.9,163.2 202.7,161.9 203.5,160.7 204.3,159.4 205.2,158.1 206.1,156.9 206.9,155.6 207.8,154.3 208.7,153.1 209.6,151.8 210.5,150.6 211.4,149.4 212.3,148.2 213.3,146.9 214.2,145.7 215.2,144.5 216.1,143.3 217.1,142.2 218.1,141.0 219.1,139.8 220.1,138.7 221.1,137.5 222.1,136.4 223.2,135.3 224.2,134.2 225.3,133.1 226.3,132.1 227.4,131.0 228.5,130.0 229.6,128.9 230.7,127.9 231.8,126.9 232.9,126.0 234.1,125.0 235.2,124.1 236.4,123.1 237.6,122.2 238.7,121.3 239.9,120.5 241.1,119.6 242.4,118.8 243.6,118.0 244.8,117.2 246.1,116.5 247.3,115.7 248.6,115.0 249.9,114.3 251.2,113.7 252.5,113.0 253.8,112.4 255.2,111.8 256.5,111.2 257.9,110.7 259.2,110.2 260.6,109.7 262.0,109.2 263.4,108.7 264.8,108.3 266.2,107.9 267.6,107.5 269.1,107.1 270.5,106.8 271.9,106.4 273.4,106.1 274.8,105.8 276.3,105.5 277.8,105.3 279.3,105.0 280.7,104.8 282.2,104.6 283.7,104.4 285.2,104.2 286.7,104.1 288.2,103.9 289.7,103.8 291.2,103.7 292.7,103.6 294.2,103.5 295.7,103.4 297.3,103.3 298.8,103.3 300.3,103.3 301.8,103.2 303.3,103.2 304.8,103.2 306.4,103.2 307.9,103.2 309.4,103.3 310.9,103.3 312.4,103.3 313.9,103.4 315.4,103.5 317.0,103.5 318.5,103.6 320.0,103.7 321.5,103.8 323.0,103.9 324.5,104.0 326.0,104.1 327.5,104.2 329.0,104.3 330.5,104.5 332.0,104.6 333.5,104.7 335.0,104.9 336.5,105.0 338.0,105.2 339.5,105.3 341.0,105.5 342.5,105.6 344.0,105.8 345.5,106.0 346.9,106.1 348.4,106.3 349.9,106.4 351.4,106.6 352.9,106.8 354.4,106.9 355.9,107.1 357.4,107.2 358.9,107.4 360.4,107.6 361.9,107.7 363.4,107.9 364.9,108.0 366.4,108.1 367.9,108.3 369.4,108.4 370.9,108.6 372.4,108.7 373.9,108.8 375.4,108.9 376.9,109.0 378.4,109.1 379.9,109.2 381.4,109.3 382.9,109.4 384.4,109.5 385.9,109.5 387.4,109.6 388.9,109.6 390.4,109.7 391.9,109.7 393.4,109.7 394.9,109.8 396.4,109.8 397.9,109.8 399.5,109.7 401.0,109.7 402.5,109.7 404.0,109.7 405.5,109.6 407.1,109.6 408.6,109.6 410.1,109.5 411.6,109.5 413.1,109.4 414.6,109.4 416.2,109.4 417.7,109.3 419.2,109.3 420.7,109.3 422.2,109.3 423.7,109.3 425.3,109.3 426.8,109.3 428.3,109.3 429.8,109.3 431.3,109.3 432.8,109.4 434.3,109.4 435.8,109.5 437.3,109.6 438.8,109.7 440.3,109.8 441.8,109.9 443.3,110.1 444.8,110.2 446.2,110.4 447.7,110.6 449.2,110.8 450.7,111.1 452.1,111.3 453.6,111.6 455.1,111.9 456.5,112.2 458.0,112.6 459.4,112.9 460.8,113.3 462.3,113.7 463.7,114.1 465.1,114.6 466.5,115.1 467.9,115.5 469.3,116.0 470.7,116.6 472.0,117.1 473.4,117.7 474.7,118.3 476.1,118.9 477.4,119.5 478.7,120.2 480.0,120.9 481.3,121.6 482.6,122.3 483.9,123.0 485.1,123.8 486.4,124.6 487.6,125.4 488.8,126.2 490.1,127.1 491.3,128.0 492.4,128.9 493.6,129.8 494.8,130.7 495.9,131.6 497.1,132.6 498.2,133.6 499.3,134.6 500.4,135.6"/>
<path class="r" style="stroke-dashoffset:11.89" d="M500.4,135.6 501.5,136.6 502.6,137.7 503.6,138.8 504.7,139.8 505.7,140.9 506.8,142.0 507.8,143.2 508.8,144.3 509.8,145.5 510.7,146.6 511.7,147.8 512.7,149.0 513.6,150.2 514.5,151.4 515.4,152.6 516.3,153.9 517.2,155.1 518.1,156.4 519.0,157.6 519.8,158.9 520.7,160.2 521.5,161.5 522.3,162.8 523.1,164.1 523.9,165.4 524.7,166.7 525.4,168.0 526.2,169.4 526.9,170.7 527.6,172.1 528.3,173.4 529.0,174.8 529.7,176.1 530.4,177.5 531.0,178.9 531.7,180.2 532.3,181.6 532.9,183.0 533.5,184.4 534.1,185.8 534.7,187.1 535.3,188.5 535.8,189.9 536.4,191.3 536.9,192.7 537.4,194.1 538.0,195.5 538.5,197.0 539.0,198.4 539.4,199.8 539.9,201.2 540.4,202.6 540.8,204.1 541.3,205.5 541.7,206.9 542.1,208.4 542.5,209.8 542.9,211.2 543.3,212.7 543.7,214.1 544.1,215.6 544.5,217.0 544.9,218.5 545.2,219.9 545.6,221.4 545.9,222.8 546.2,224.3 546.6,225.8 546.9,227.2 547.2,228.7 547.5,230.2 547.8,231.6 548.1,233.1 548.4,234.6 548.7,236.0 548.9,237.5 549.2,239.0 549.5,240.5 549.7,241.9 550.0,243.4 550.2,244.9 550.5,246.4 550.7,247.9 551.0,249.4 551.2,250.8 551.4,252.3 551.7,253.8 551.9,255.3 552.1,256.8 552.3,258.3 552.5,259.8 552.7,261.3 552.9,262.8 553.1,264.3 553.3,265.7 553.5,267.2 553.7,268.7 553.9,270.2 554.1,271.7 554.3,273.2 554.5,274.7 554.7,276.2"/>
<path class="r" style="stroke-dashoffset:0.00" d="M179.9,280.2 180.0,278.7 180.2,277.3 180.3,275.8 180.5,274.3 180.6,272.8 180.7,271.3 180.9,269.8 181.0,268.3 181.1,266.9 181.3,265.4 181.4,263.9 181.5,262.4 181.7,260.8 181.8,259.3 181.9,257.8 182.1,256.3 182.2,254.8 182.3,253.3 182.5,251.8 182.6,250.3 182.8,248.8 182.9,247.3 183.1,245.8 183.3,244.3 183.4,242.7 183.6,241.2 183.8,239.7 184.0,238.2 184.2,236.7 184.4,235.2 184.6,233.7 184.9,232.2 185.1,230.7 185.3,229.3 185.6,227.8 185.9,226.3 186.2,224.8 186.5,223.3 186.8,221.9 187.1,220.4 187.4,218.9 187.8,217.5 188.1,216.0 188.5,214.6 188.9,213.1 189.3,211.7 189.8,210.3 190.2,208.8 190.7,207.4 191.1,206.0 191.6,204.6 192.2,203.2 192.7,201.8 193.2,200.4 193.8,199.1 194.4,197.7 195.0,196.3 195.6,194.9 196.2,193.6 196.9,192.2 197.5,190.9 198.2,189.6 198.9,188.2 199.6,186.9 200.2,185.5 201.0,184.2 201.7,182.9 202.4,181.6 203.1,180.3 203.8,179.0 204.6,177.6 205.3,176.3"/>
<path class="r" style="stroke-dashoffset:6.13" d="M205.3,176.3 206.1,175.0 206.8,173.7 207.6,172.4 208.4,171.1 209.1,169.8 209.9,168.6 210.7,167.3 211.5,166.0 212.3,164.8 213.2,163.5 214.0,162.3 214.9,161.0 215.7,159.8 216.6,158.6 217.5,157.4 218.4,156.2 219.3,155.0 220.3,153.9 221.2,152.7 222.2,151.6 223.2,150.5 224.2,149.3 225.3,148.3 226.3,147.2 227.4,146.1 228.5,145.1 229.6,144.1 230.7,143.1 231.9,142.1 233.1,141.1 234.2,140.2 235.4,139.2 236.6,138.3 237.9,137.4 239.1,136.6 240.4,135.7 241.6,134.9 242.9,134.1 244.2,133.3 245.5,132.5 246.8,131.7 248.2,131.0 249.5,130.3 250.8,129.6 252.2,129.0 253.6,128.3 255.0,127.7 256.3,127.1 257.7,126.6 259.2,126.0 260.6,125.5 262.0,125.0 263.4,124.5 264.8,124.1 266.3,123.7 267.7,123.3 269.2,122.9 270.6,122.6 272.1,122.3 273.6,122.0 275.0,121.7 276.5,121.5 278.0,121.3 279.4,121.1 280.9,121.0 282.4,120.8 283.9,120.8 285.3,120.7 286.8,120.7 288.3,120.7 289.8,120.7 291.2,120.8 292.7,120.9 294.2,121.0 295.7,121.1 297.1,121.3 298.6,121.5 300.0,121.8 301.5,122.1 302.9,122.4 304.4,122.7 305.8,123.1 307.2,123.5 308.7,124.0 310.1,124.5 311.5,125.0 312.9,125.5 314.3,126.1 315.7,126.8 317.0,127.4 318.4,128.1 319.8,128.8 321.1,129.6 322.4,130.3 323.8,131.2 325.1,132.0 326.4,132.8 327.7,133.7 328.9,134.6 330.2,135.5"/>
<path class="r" style="stroke-dashoffset:6.54" d="M330.2,135.5 331.4,136.4 332.7,137.3 333.9,138.3 335.1,139.2 336.3,140.2 337.4,141.2 338.6,142.1 339.7,143.1 340.8,144.1 342.0,145.1 343.0,146.1 344.1,147.1 345.2,148.1 346.3,149.1 347.3,150.2 348.3,151.2 349.3,152.3 350.4,153.3 351.4,154.4 352.3,155.5 353.3,156.6 354.3,157.7 355.3,158.8 356.2,160.0 357.1,161.1 358.1,162.3 359.0,163.4 359.9,164.6 360.8,165.8 361.7,167.0 362.6,168.2 363.4,169.5 364.3,170.7 365.1,172.0 365.9,173.2 366.7,174.5 367.5,175.8 368.3,177.1 369.1,178.4 369.8,179.7 370.5,181.1 371.3,182.4 372.0,183.8 372.6,185.1 373.3,186.5 373.9,187.9 374.6,189.3 375.2,190.7 375.9,192.0 376.6,193.4 377.4,194.8 378.2,196.1 379.2,197.5 380.2,198.6 381.3,199.6 382.5,200.1 383.6,200.3 384.8,200.1 385.9,199.5 387.0,198.6 388.1,197.6 389.2,196.4 390.2,195.1 391.3,193.8 392.3,192.5 393.3,191.2 394.3,189.9 395.3,188.7 396.3,187.4 397.2,186.2 398.2,184.9 399.1,183.7 400.0,182.5 400.9,181.3 401.8,180.1 402.7,178.9 403.5,177.7 404.4,176.5 405.2,175.3 406.1,174.2 406.9,173.0 407.8,171.8 408.6,170.7 409.5,169.5 410.3,168.3 411.1,167.1 412.0,166.0 412.8,164.8 413.6,163.6 414.5,162.4 415.3,161.3 416.2,160.1 417.0,158.9 417.9,157.7 418.8,156.5 419.7,155.3 420.6,154.1 421.5,152.8 422.4,151.6 423.3,150.4 424.2,149.1 425.2,147.9 426.2,146.7 427.1,145.5 428.1,144.3 429.2,143.1 430.2,142.0 431.3,140.8 432.3,139.7 433.4,138.6 434.5,137.6 435.7,136.6 436.8,135.6 438.0,134.6 439.2,133.7 440.4,132.9 441.7,132.1 443.0,131.3 444.3,130.6 445.6,130.0 447.0,129.4 448.4,128.8 449.8,128.4 451.3,128.0 452.8,127.7 454.3,127.4 455.8,127.2 457.3,127.1 458.8,127.0 460.4,127.0 461.9,127.0 463.4,127.1 464.9,127.3 466.4,127.5 467.9,127.8 469.3,128.2 470.7,128.6 472.1,129.1 473.5,129.6 474.8,130.2 476.1,130.8 477.4,131.5 478.6,132.2 479.8,133.0 481.0,133.9 482.2,134.7 483.3,135.7 484.4,136.6 485.5,137.6 486.5,138.6 487.6,139.7 488.6,140.8 489.6,141.9 490.6,143.0 491.6,144.2 492.5,145.4 493.4,146.6 494.4,147.8 495.3,149.1 496.2,150.3 497.1,151.6 497.9,152.9 498.8,154.1 499.7,155.4 500.5,156.7"/>
<path class="r" style="stroke-dashoffset:4.94" d="M500.5,156.7 501.4,158.0 502.2,159.3 503.1,160.6 503.9,161.8 504.8,163.1 505.6,164.4 506.4,165.7 507.3,166.9 508.1,168.2 508.9,169.5 509.7,170.8 510.5,172.0 511.3,173.3 512.1,174.6 512.9,175.9 513.6,177.1 514.4,178.4 515.1,179.7 515.9,181.0 516.6,182.3 517.3,183.6 518.1,184.9 518.8,186.2 519.5,187.5 520.2,188.8 520.8,190.1 521.5,191.5 522.1,192.8 522.8,194.1 523.4,195.5 524.0,196.8 524.6,198.2 525.2,199.6 525.8,200.9 526.4,202.3 526.9,203.7 527.5,205.1 528.0,206.5 528.5,207.9 529.0,209.3 529.5,210.7 530.0,212.1 530.5,213.6 531.0,215.0 531.4,216.4 531.9,217.9 532.3,219.3 532.7,220.8 533.1,222.2 533.5,223.7 533.9,225.1 534.3,226.6 534.7,228.0 535.1,229.5 535.4,231.0 535.8,232.5 536.1,233.9 536.4,235.4 536.8,236.9 537.1,238.4 537.4,239.9 537.7,241.3 538.0,242.8 538.3,244.3 538.6,245.8 538.8,247.3 539.1,248.8 539.4,250.3 539.6,251.8 539.8,253.3 540.1,254.8 540.3,256.3 540.5,257.7 540.8,259.2 541.0,260.7 541.2,262.2 541.4,263.7 541.6,265.2 541.8,266.7 542.0,268.2 542.2,269.6 542.3,271.1 542.5,272.6 542.7,274.1 542.8,275.5 543.0,277.0"/>
<path class="r" style="stroke-dashoffset:9.95" d="M204.8,279.0 204.9,277.5 205.0,276.0 205.2,274.5 205.3,272.9 205.4,271.4 205.6,269.9 205.7,268.4 205.9,266.9 206.1,265.4 206.3,263.9 206.5,262.4 206.7,260.9 206.9,259.4 207.1,257.9 207.4,256.4 207.6,254.9 207.9,253.4 208.1,251.9 208.4,250.5 208.7,249.0 209.0,247.5 209.3,246.0 209.6,244.6 209.9,243.1 210.3,241.6 210.6,240.2 211.0,238.7 211.3,237.2 211.7,235.8 212.1,234.3 212.5,232.9 212.9,231.4 213.4,230.0 213.8,228.6 214.3,227.1 214.7,225.7 215.2,224.3 215.7,222.9 216.2,221.5 216.7,220.0 217.2,218.6 217.8,217.2 218.3,215.8 218.9,214.4 219.4,213.1 220.0,211.7 220.6,210.3 221.2,208.9 221.9,207.5 222.5,206.2 223.2,204.8 223.8,203.5 224.5,202.1 225.2,200.8 225.9,199.4 226.6,198.1 227.4,196.8 228.1,195.5 228.9,194.1 229.7,192.8 230.5,191.5 231.3,190.2 232.1,188.9 233.0,187.7 233.8,186.4 234.7,185.1 235.6,183.9 236.5,182.6 237.4,181.4 238.3,180.2 239.3,179.0 240.2,177.8 241.2,176.6 242.2,175.4 243.2,174.3 244.3,173.2 245.3,172.0 246.4,170.9 247.5,169.9 248.6,168.8 249.7,167.7 250.8,166.7 252.0,165.7 253.1,164.7 254.3,163.8 255.5,162.8 256.8,161.9 258.0,161.0 259.2,160.2 260.5,159.3 261.8,158.5 263.1,157.7 264.4,157.0 265.7,156.2 267.1,155.6 268.4,154.9 269.8,154.3 271.2,153.7 272.5,153.1 273.9,152.6 275.3,152.1 276.7,151.6 278.1,151.2 279.6,150.8 281.0,150.5 282.4,150.2 283.9,149.9 285.3,149.7 286.7,149.5 288.2,149.4 289.6,149.3 291.1,149.3 292.6,149.3 294.0,149.4 295.5,149.5 296.9,149.6 298.4,149.8 299.8,150.1 301.3,150.3 302.7,150.6 304.2,151.0 305.6,151.4 307.0,151.8 308.4,152.3 309.9,152.8 311.3,153.4 312.7,154.0 314.1,154.6 315.4,155.2 316.8,155.9 318.2,156.6 319.5,157.3 320.8,158.1 322.2,158.9 323.5,159.7 324.8,160.6 326.0,161.4 327.3,162.3 328.5,163.3 329.7,164.2 330.9,165.2 332.1,166.1 333.3,167.1 334.4,168.2 335.5,169.2 336.6,170.3 337.7,171.3 338.8,172.4 339.8,173.5 340.8,174.6 341.8,175.8 342.8,176.9 343.8,178.1 344.7,179.3 345.7,180.5 346.6,181.7 347.5,182.9 348.4,184.2 349.2,185.4 350.1,186.7 350.9,187.9 351.7,189.2 352.5,190.5 353.3,191.8 354.0,193.1 354.8,194.5 355.5,195.8 356.2,197.1 356.9,198.5 357.6,199.8 358.3,201.2 358.9,202.6 359.6,203.9 360.2,205.3 360.8,206.7 361.4,208.1 362.0,209.5 362.5,210.9 363.1,212.3 363.6,213.7 364.2,215.1 364.7,216.5 365.2,218.0 365.7,219.4 366.2,220.8 366.6,222.2 367.1,223.7 367.5,225.1 368.0,226.6 368.4,228.0 368.8,229.4 369.2,230.9 369.6,232.3 370.0,233.8 370.4,235.3 370.8,236.7 371.1,238.2 371.5,239.6 371.8,241.1 372.2,242.6 372.5,244.0 372.8,245.5 373.2,247.0 373.5,248.5 373.8,249.9 374.1,251.4 374.4,252.9 374.7,254.4 375.0,255.9 375.3,257.4 375.5,258.8 375.8,260.3 376.1,261.8 376.4,263.3 376.6,264.8 376.9,266.3 377.1,267.8 377.4,269.3 377.6,270.7 377.9,272.2 378.2,273.7 378.4,275.2 378.7,276.7 378.9,278.2"/>
<path class="r" style="stroke-dashoffset:8.99" d="M389.7,278.2 389.9,276.8 390.1,275.4 390.3,273.9 390.5,272.5 390.7,271.0 390.9,269.5 391.1,268.0 391.3,266.5 391.5,265.0 391.7,263.5 391.9,262.0 392.2,260.5 392.4,259.0 392.6,257.5 392.9,255.9 393.1,254.4 393.4,252.9 393.7,251.4 394.0,249.8 394.3,248.3 394.7,246.8 395.0,245.3 395.4,243.8 395.8,242.3 396.2,240.8 396.6,239.3 397.1,237.8 397.5,236.3 398.1,234.9 398.6,233.4 399.1,232.0 399.7,230.6 400.3,229.2 401.0,227.8 401.6,226.4 402.4,225.0 403.1,223.7 403.9,222.4 404.7,221.1 405.5,219.8 406.4,218.6 407.3,217.3 408.3,216.1 409.3,214.9 410.3,213.8 411.4,212.6 412.4,211.5 413.6,210.5 414.7,209.4 415.9,208.4 417.1,207.5 418.3,206.5 419.6,205.6 420.8,204.8 422.1,204.0 423.4,203.2 424.8,202.4 426.1,201.8 427.5,201.1 428.9,200.5 430.2,199.9 431.6,199.4 433.0,199.0 434.5,198.6 435.9,198.2 437.3,197.9 438.8,197.6 440.2,197.4 441.6,197.3 443.1,197.2 444.5,197.2 445.9,197.2 447.4,197.3 448.8,197.5 450.2,197.7 451.6,198.0 453.0,198.3 454.4,198.7 455.8,199.2 457.2,199.7 458.5,200.3 459.9,201.0 461.2,201.7 462.5,202.4 463.8,203.2 465.0,204.0 466.3,204.9 467.5,205.9 468.7,206.8 469.9,207.8 471.0,208.9 472.1,210.0 473.2,211.1 474.3,212.2 475.3,213.4 476.3,214.6 477.2,215.9 478.2,217.1 479.0,218.4 479.9,219.7 480.7,221.0 481.5,222.4 482.3,223.7 483.0,225.1 483.7,226.5 484.3,227.9 485.0,229.3 485.6,230.8 486.1,232.2 486.7,233.7 487.2,235.1 487.7,236.6 488.1,238.0 488.6,239.5 489.0,241.0 489.3,242.5 489.7,244.0 490.0,245.4 490.4,246.9 490.6,248.4 490.9,249.9 491.2,251.4 491.4,252.9 491.6,254.4 491.8,255.9 492.0,257.5 492.2,259.0 492.4,260.5 492.5,262.0 492.6,263.5 492.8,265.0 492.9,266.5 493.0,267.9 493.1,269.4 493.2,270.9 493.3,272.4"/>
</svg>
</body></html>
